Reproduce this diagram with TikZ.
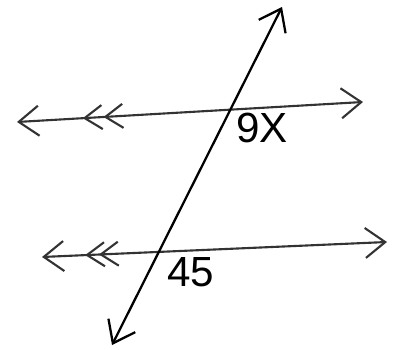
\documentclass[tikz,border=0pt]{standalone}
\usepackage{fontspec}
\setsansfont{Liberation Sans}
\usetikzlibrary{arrows.meta,decorations.markings}

\begin{document}
\begin{tikzpicture}[
    x=0.02cm,
    y=-0.02cm,
    every node/.style={
        font=\sffamily\fontsize{24}{24}\selectfont,
        inner sep=0pt
    },
    parallel/.style={
        {Straight Barb[length=4mm,width=6mm]}-{Straight Barb[length=4mm,width=6mm]},
        line width=1.2pt,
        black!80
    },
    transversal/.style={
        {Straight Barb[length=4mm,width=6mm]}-{Straight Barb[length=4mm,width=6mm]},
        line width=1.3pt,
        black
    },
    ticks/.style n args={2}{
        postaction={decorate},
        decoration={
            markings,
            mark=at position #1 with {\arrow{Straight Barb[length=3.5mm,width=4.8mm]}},
            mark=at position #2 with {\arrow{Straight Barb[length=3.5mm,width=4.8mm]}}
        }
    }
]

\useasboundingbox (0,0) rectangle (394,350);

% parallel lines, drawn right to left so the ticks point left
\coordinate (topright) at (363,102);
\coordinate (topleft) at (17,122);
\coordinate (bottomright) at (387,242);
\coordinate (bottomleft) at (42,257);

% transversal
\coordinate (transtop) at (282,7);
\coordinate (transbottom) at (112,345);

\draw[parallel, ticks={0.81}{0.75}] (topright) -- (topleft);
\draw[parallel, ticks={0.875}{0.835}] (bottomright) -- (bottomleft);
\draw[transversal] (transbottom) -- (transtop);

% angle labels
\node (ninex) at (262,128) {9X};
\node (fortyfive) at (191,272) {45};

\end{tikzpicture}
\end{document}
